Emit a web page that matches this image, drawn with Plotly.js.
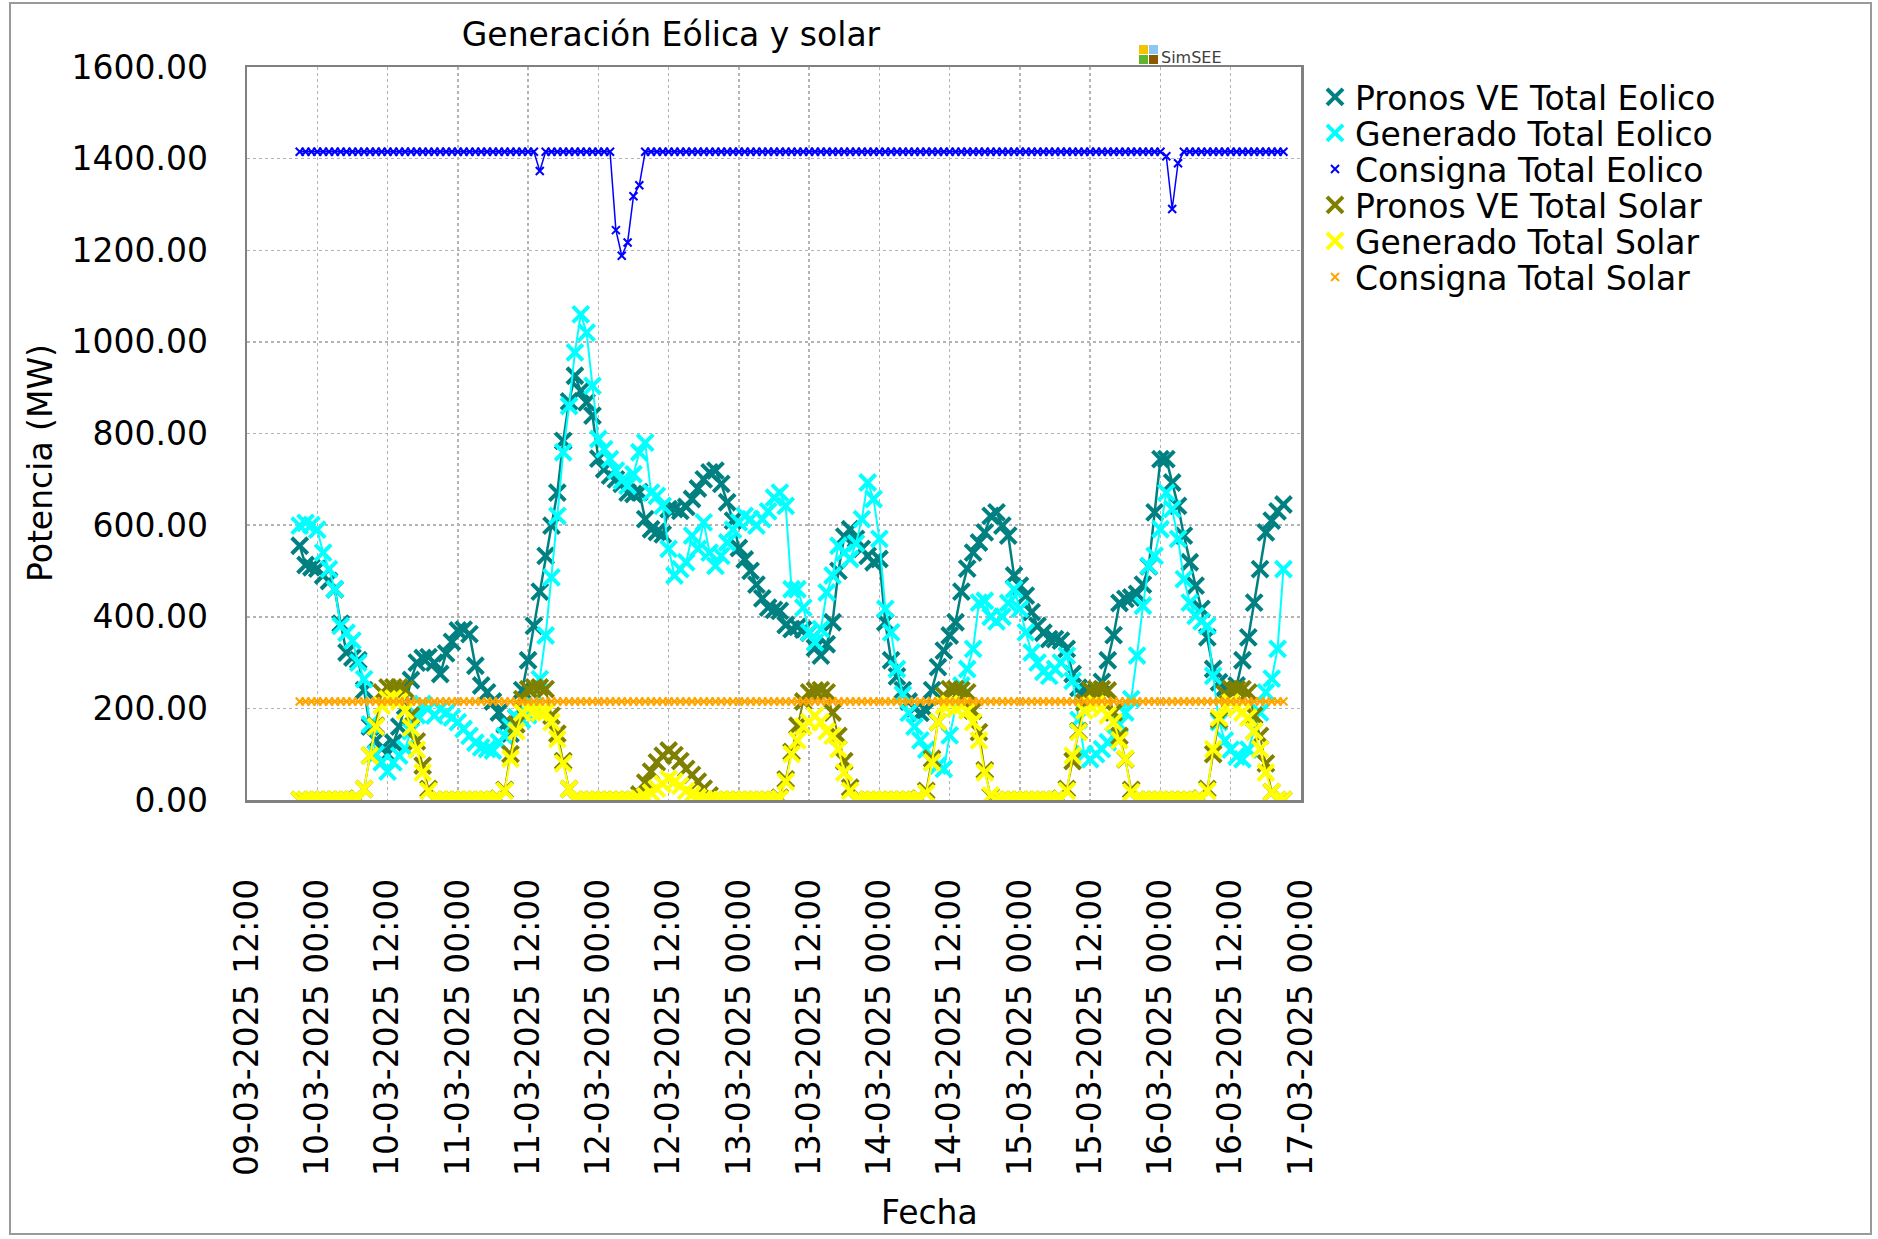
<!DOCTYPE html>
<html>
<head>
<meta charset="utf-8">
<script src="https://cdn.plot.ly/plotly-3.0.1.min.js"></script>
<style>html,body{margin:0;padding:0;background:#fff;}</style>
</head>
<body>
<div id="chart" style="width:1878px;height:1239px;"></div>
<script>
// ---- data (hourly, 09-03-2025 21:00 .. 16-03-2025 21:00) ----
const firstTime = [2025, 3, 9, 21];   // year, month, day, hour of first sample
const nSamples = 169;

const seriesNames = [
  'Pronos VE Total Eolico', 'Generado Total Eolico', 'Consigna Total Eolico',
  'Pronos VE Total Solar', 'Generado Total Solar', 'Consigna Total Solar'
];
const seriesColors = ['#008080', '#00FFFF', '#0000FF', '#808000', '#FFFF00', '#FFA500'];

const pronosEol = [
  555, 513, 508,
  505, 490, 478, 460, 385, 322, 311, 305, 240, 160, 130, 112, 100, 125, 160, 205, 262, 300, 310, 312, 300, 275, 320, 345,
  370, 372, 362, 293, 250, 235, 215, 191, 165, 145, 180, 240, 305, 380, 455, 533, 599, 671, 784, 870, 926, 893, 868, 839,
  745, 722, 708, 700, 690, 671, 668, 672, 613, 591, 585, 580, 635, 635, 631, 640, 657, 680, 700, 715, 719, 690, 650, 610,
  550, 525, 500, 470, 440, 420, 415, 413, 382, 373, 378, 372, 365, 332, 315, 340, 388, 500, 575, 591, 570, 548, 533, 519,
  526, 388, 305, 270, 240, 215, 200, 190, 195, 240, 290, 326, 359, 388, 455, 505, 540, 562, 584, 620, 628, 599, 577, 490,
  468, 446, 410, 380, 365, 351, 351, 348, 330, 275, 245, 225, 230, 235, 258, 305, 360, 430, 439, 442, 450, 470, 510, 628,
  744, 744, 693, 642, 577, 519, 468, 417, 355, 286, 257, 245, 240, 250, 305, 355, 431, 504, 584, 610, 630, 645
];
const generadoEol = [
  599, 605, 600,
  590, 540, 504, 460, 380, 365, 348, 300, 264, 165, 100, 82, 62, 82, 97, 112, 150, 185, 210, 200, 184, 199, 190, 180,
  170, 155, 140, 125, 115, 111, 108, 126, 140, 160, 180, 175, 185, 205, 264, 359, 486, 620, 759, 860, 977, 1060, 1020, 904,
  788, 766, 744, 719, 697, 686, 711, 759, 780, 671, 664, 642, 548, 490, 504, 519, 577, 548, 606, 540, 511, 533, 562, 590,
  606, 620, 613, 599, 613, 630, 660, 671, 642, 460, 460, 420, 366, 344, 373, 453, 490, 555, 540, 526, 560, 613, 693, 657,
  570, 417, 366, 286, 230, 190, 160, 130, 110, 82, 75, 68, 141, 200, 250, 286, 330, 431, 435, 400, 390, 400, 430, 460,
  417, 366, 322, 300, 280, 271, 286, 300, 315, 260, 175, 100, 89, 100, 111, 126, 140, 165, 191, 220, 315, 424, 511, 533,
  591, 671, 635, 570, 482, 431, 402, 390, 380, 271, 170, 130, 110, 95, 89, 110, 150, 191, 235, 265, 330, 504
];
const consignaEol = [
  1415, 1415, 1415,
  1415, 1415, 1415, 1415, 1415, 1415, 1415, 1415, 1415, 1415, 1415, 1415, 1415, 1415, 1415, 1415, 1415, 1415, 1415, 1415, 1415, 1415, 1415, 1415,
  1415, 1415, 1415, 1415, 1415, 1415, 1415, 1415, 1415, 1415, 1415, 1415, 1415, 1415, 1373, 1415, 1415, 1415, 1415, 1415, 1415, 1415, 1415, 1415,
  1415, 1415, 1415, 1244, 1188, 1217, 1318, 1342, 1415, 1415, 1415, 1415, 1415, 1415, 1415, 1415, 1415, 1415, 1415, 1415, 1415, 1415, 1415, 1415,
  1415, 1415, 1415, 1415, 1415, 1415, 1415, 1415, 1415, 1415, 1415, 1415, 1415, 1415, 1415, 1415, 1415, 1415, 1415, 1415, 1415, 1415, 1415, 1415,
  1415, 1415, 1415, 1415, 1415, 1415, 1415, 1415, 1415, 1415, 1415, 1415, 1415, 1415, 1415, 1415, 1415, 1415, 1415, 1415, 1415, 1415, 1415, 1415,
  1415, 1415, 1415, 1415, 1415, 1415, 1415, 1415, 1415, 1415, 1415, 1415, 1415, 1415, 1415, 1415, 1415, 1415, 1415, 1415, 1415, 1415, 1415, 1415,
  1415, 1405, 1290, 1390, 1415, 1415, 1415, 1415, 1415, 1415, 1415, 1415, 1415, 1415, 1415, 1415, 1415, 1415, 1415, 1415, 1415, 1415
];
const pronosSol = [
  0, 0, 0,
  0, 0, 0, 0, 0, 0, 0, 3, 24, 97, 162, 235, 246, 246, 246, 242, 184, 128, 75, 24, 0, 0, 0, 0,
  0, 0, 0, 0, 0, 0, 0, 3, 22, 100, 165, 220, 242, 246, 246, 242, 184, 145, 85, 24, 0, 0, 0, 0,
  0, 0, 0, 0, 0, 0, 0, 12, 38, 62, 82, 97, 108, 98, 85, 68, 55, 40, 25, 10, 0, 0, 0, 0,
  0, 0, 0, 0, 0, 0, 0, 5, 45, 105, 162, 215, 235, 239, 240, 235, 191, 140, 85, 27, 0, 0, 0, 0,
  0, 0, 0, 0, 0, 0, 0, 3, 20, 90, 170, 228, 242, 242, 240, 235, 195, 148, 65, 8, 0, 0, 0, 0,
  0, 0, 0, 0, 0, 0, 0, 3, 24, 85, 150, 213, 240, 242, 242, 239, 191, 140, 89, 22, 0, 0, 0, 0,
  0, 0, 0, 0, 0, 0, 0, 3, 24, 100, 175, 232, 242, 242, 242, 235, 184, 140, 80, 17, 0, 0
];
const generadoSol = [
  0, 0, 0,
  0, 0, 0, 0, 0, 0, 0, 2, 24, 97, 160, 206, 220, 222, 215, 195, 158, 110, 60, 20, 0, 0, 0, 0,
  0, 0, 0, 0, 0, 0, 0, 2, 20, 90, 150, 191, 200, 195, 190, 191, 170, 133, 80, 24, 0, 0, 0, 0,
  0, 0, 0, 0, 0, 0, 0, 3, 8, 16, 25, 35, 46, 40, 31, 20, 12, 6, 2, 0, 0, 0, 0, 0,
  0, 0, 0, 0, 0, 0, 0, 3, 40, 100, 130, 160, 170, 184, 170, 150, 140, 111, 60, 20, 0, 0, 0, 0,
  0, 0, 0, 0, 0, 0, 0, 2, 15, 82, 170, 206, 210, 200, 205, 195, 170, 130, 60, 10, 0, 0, 0, 0,
  0, 0, 0, 0, 0, 0, 0, 2, 20, 97, 148, 195, 206, 210, 200, 185, 170, 130, 90, 17, 0, 0, 0, 0,
  0, 0, 0, 0, 0, 0, 0, 2, 20, 111, 180, 205, 213, 200, 191, 180, 150, 111, 60, 17, 0, 0
];
const consignaSol = [
  215, 215, 215,
  215, 215, 215, 215, 215, 215, 215, 215, 215, 215, 215, 215, 215, 215, 215, 215, 215, 215, 215, 215, 215, 215, 215, 215,
  215, 215, 215, 215, 215, 215, 215, 215, 215, 215, 215, 215, 215, 215, 215, 215, 215, 215, 215, 215, 215, 215, 215, 215,
  215, 215, 215, 215, 215, 215, 215, 215, 215, 215, 215, 215, 215, 215, 215, 215, 215, 215, 215, 215, 215, 215, 215, 215,
  215, 215, 215, 215, 215, 215, 215, 215, 215, 215, 215, 215, 215, 215, 215, 215, 215, 215, 215, 215, 215, 215, 215, 215,
  215, 215, 215, 215, 215, 215, 215, 215, 215, 215, 215, 215, 215, 215, 215, 215, 215, 215, 215, 215, 215, 215, 215, 215,
  215, 215, 215, 215, 215, 215, 215, 215, 215, 215, 215, 215, 215, 215, 215, 215, 215, 215, 215, 215, 215, 215, 215, 215,
  215, 215, 215, 215, 215, 215, 215, 215, 215, 215, 215, 215, 215, 215, 215, 215, 215, 215, 215, 215, 215, 215
];

const axisRange = ['2025-03-09 12:00', '2025-03-17 00:00'];
const yTicks = [0, 200, 400, 600, 800, 1000, 1200, 1400, 1600];

// ---- time axis ----
function pad(n) { return (n < 10 ? '0' : '') + n; }
const t0 = Date.UTC(firstTime[0], firstTime[1] - 1, firstTime[2], firstTime[3]);
const times = [];
for (let i = 0; i < nSamples; i++) {
  const d = new Date(t0 + i * 3600000);
  times.push(d.getUTCFullYear() + '-' + pad(d.getUTCMonth() + 1) + '-' + pad(d.getUTCDate()) + ' ' + pad(d.getUTCHours()) + ':00');
}

const FONT = 'DejaVu Sans, Verdana, sans-serif';
const FS = 33;
const allSeries = [pronosEol, generadoEol, consignaEol, pronosSol, generadoSol, consignaSol];
const bigMarker = [true, true, false, true, true, false];
const lineWidths = [2.5, 2, 1.5, 2, 2, 1.5];
const legendIds = ['legend', 'legend2', 'legend3', 'legend4', 'legend5', 'legend6'];

const traces = [];
allSeries.forEach((ys, k) => {
  const c = seriesColors[k];
  const mk = bigMarker[k]
    ? {symbol: 'x-thin', size: 16, color: c, line: {color: c, width: 4}}
    : {symbol: 'x-thin', size: 8, color: c, line: {color: c, width: 2}};
  traces.push({
    x: times, y: ys, type: 'scatter', mode: 'lines',
    line: {color: c, width: lineWidths[k]}, showlegend: false, hoverinfo: 'skip'
  });
  traces.push({
    x: times, y: ys, type: 'scatter', mode: 'markers', name: seriesNames[k],
    marker: mk, showlegend: true, legend: legendIds[k]
  });
});

// pixel helpers for layout (plot box: x 247..1301, y 67..800)
const PL = 247, PR = 1301, PT = 67, PB = 800;
const px = X => (X - PL) / (PR - PL);
const py = Y => (PB - Y) / (PB - PT);

const legendRows = [97, 133, 169, 205, 241, 277];
const layout = {
  width: 1878, height: 1239, autosize: false,
  margin: {l: PL, r: 1878 - PR, t: PT, b: 1239 - PB, pad: 0},
  paper_bgcolor: '#ffffff', plot_bgcolor: '#ffffff',
  font: {family: FONT, size: FS, color: '#000000'},
  title: {
    text: 'Generación Eólica y solar',
    font: {family: FONT, size: FS, color: '#000000'},
    x: px(671), xref: 'paper', xanchor: 'center',
    y: 1 - 34 / 1239, yref: 'container', yanchor: 'middle'
  },
  xaxis: {
    type: 'date', range: axisRange,
    tick0: axisRange[0], dtick: 12 * 3600000,
    tickformat: '%d-%m-%Y %H:%M', tickangle: -90,
    tickfont: {family: FONT, size: FS, color: '#000000'},
    ticks: '', ticklabelstandoff: 63,
    showgrid: true, gridcolor: '#b4b4b4', griddash: 'dot', gridwidth: 1.5,
    showline: true, mirror: true, linecolor: '#808080', linewidth: 2.5,
    zeroline: false, automargin: false, fixedrange: true
  },
  yaxis: {
    range: [0, 1600], tickvals: yTicks, tickformat: '.2f',
    tickfont: {family: FONT, size: FS, color: '#000000'},
    ticks: '', ticklabelstandoff: 30,
    showgrid: true, gridcolor: '#b4b4b4', griddash: 'dot', gridwidth: 1.5,
    showline: true, mirror: true, linecolor: '#808080', linewidth: 2.5,
    zeroline: false, automargin: false, fixedrange: true
  },
  annotations: [
    {text: 'Potencia (MW)', xref: 'paper', yref: 'paper', x: px(40), y: py(463),
     xanchor: 'center', yanchor: 'middle', textangle: -90, showarrow: false,
     font: {family: FONT, size: FS, color: '#000000'}},
    {text: 'Fecha', xref: 'paper', yref: 'paper', x: px(929), y: py(1212),
     xanchor: 'center', yanchor: 'middle', showarrow: false,
     font: {family: FONT, size: FS, color: '#000000'}},
    {text: 'SimSEE', xref: 'paper', yref: 'paper', x: px(1159), y: py(57),
     xanchor: 'left', yanchor: 'middle', showarrow: false,
     font: {family: FONT, size: 16, color: '#404040'}}
  ],
  shapes: [
    {type: 'rect', xref: 'paper', yref: 'paper', x0: px(10), x1: px(1871), y0: py(1234), y1: py(3),
     line: {color: '#9a9a9a', width: 2}, fillcolor: 'rgba(0,0,0,0)', layer: 'below'},
    {type: 'rect', xref: 'paper', yref: 'paper', x0: px(1139), x1: px(1148), y0: py(54), y1: py(45),
     line: {width: 0}, fillcolor: '#f2c500'},
    {type: 'rect', xref: 'paper', yref: 'paper', x0: px(1149), x1: px(1158), y0: py(54), y1: py(45),
     line: {width: 0}, fillcolor: '#8cc6f2'},
    {type: 'rect', xref: 'paper', yref: 'paper', x0: px(1139), x1: px(1148), y0: py(64), y1: py(55),
     line: {width: 0}, fillcolor: '#5fb52e'},
    {type: 'rect', xref: 'paper', yref: 'paper', x0: px(1149), x1: px(1158), y0: py(64), y1: py(55),
     line: {width: 0}, fillcolor: '#8a5a00'}
  ]
};
legendIds.forEach((id, k) => {
  layout[id] = {
    x: px(1315), xanchor: 'left', y: py(legendRows[k]), yanchor: 'middle',
    bgcolor: 'rgba(0,0,0,0)', borderwidth: 0, itemsizing: 'trace',
    font: {family: FONT, size: FS, color: '#000000'}
  };
});

Plotly.newPlot('chart', traces, layout, {displayModeBar: false, staticPlot: true});
</script>
</body>
</html>
